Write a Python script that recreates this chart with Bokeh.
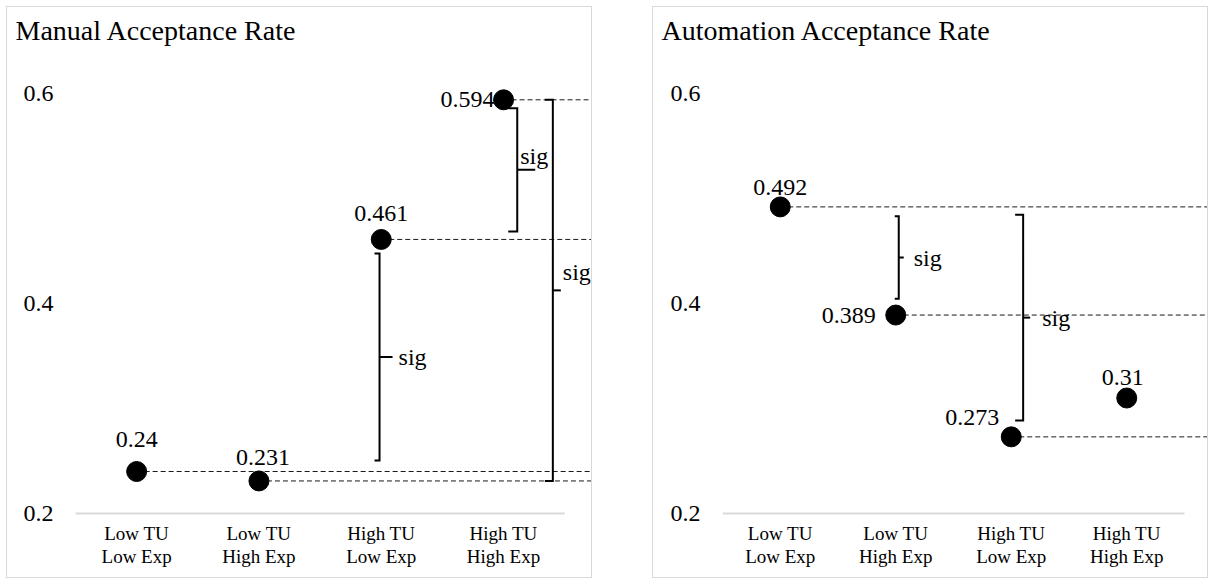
from bokeh.plotting import figure
from bokeh.models import Range1d, FixedTicker, Spacer
from bokeh.layouts import row, column
from bokeh.embed import file_html
from bokeh.resources import INLINE
from bokeh.core.properties import value

# ---------------- data ----------------
categories = ["Low TU\nLow Exp", "Low TU\nHigh Exp", "High TU\nLow Exp", "High TU\nHigh Exp"]
y_ticks = [0.2, 0.4, 0.6]

manual_title = "Manual Acceptance Rate"
manual_rate = [0.24, 0.231, 0.461, 0.594]
manual_labels = ["0.24", "0.231", "0.461", "0.594"]
manual_dashed = [0, 1, 2, 3]          # points with a reference line to the right
# significance brackets: (x in category units, top value, bottom value)
manual_sig = [(2.486, 0.4476, 0.2505), (3.612, 0.586, 0.4686), (3.903, 0.594, 0.231)]

auto_title = "Automation Acceptance Rate"
auto_rate = [0.492, 0.389, 0.273, 0.31]
auto_labels = ["0.492", "0.389", "0.273", "0.31"]
auto_dashed = [0, 1, 2]
auto_sig = [(1.526, 0.4831, 0.4045), (2.603, 0.4845, 0.2886)]

# ---------------- styling / layout ----------------
FONT = "Liberation Serif"
PX_PER_UNIT_Y = 1050.0

# value-label placement: (dx px, dy px (down +), align)
manual_label_pos = [(0, -32, "center"), (4, -23, "center"), (0, -26, "center"), (-9, 0, "right")]
auto_label_pos = [(0, -19, "center"), (-20, 0, "right"), (-12, -19, "right"), (-4, -21, "center")]
# bracket styling: (hook px, tick px, label dx px, label dy px)
manual_sig_style = [(5, 13, 19, 0), (9, 18, 3, -14), (8, 8, 10, -18)]
auto_sig_style = [(4, 5, 15, 0), (8, 7, 19, 0)]


def make_panel(title, rates, labels, dashed, sig, label_pos, sig_style,
               width, min_left, min_right, cat_px):
    height = 572
    min_top, min_bottom = 43, 63
    frame_w = width - min_left - min_right
    frame_h = height - min_top - min_bottom
    x_end = frame_w / cat_px
    y_start = 0.2 - 3.0 / PX_PER_UNIT_Y
    y_end = y_start + frame_h / PX_PER_UNIT_Y
    dx = x_end / frame_w          # data units per px (x)
    dy = 1.0 / PX_PER_UNIT_Y      # data units per px (y)

    p = figure(width=width, height=height, output_backend="svg", toolbar_location=None,
               x_range=Range1d(0, x_end), y_range=Range1d(y_start, y_end),
               min_border_left=min_left, min_border_right=min_right,
               min_border_top=min_top, min_border_bottom=min_bottom,
               title=title)
    p.styles = {"border": "1px solid #d9d9d9"}
    p.outline_line_color = None
    p.background_fill_color = "white"
    p.border_fill_color = "white"
    p.grid.visible = False

    p.title.text_font = FONT
    p.title.text_font_size = "28px"
    p.title.text_font_style = "normal"
    p.title.text_color = "black"
    p.title.align = "left"
    p.title.offset = -(min_left - 8)
    p.title.standoff = 10

    # axes
    xs = [i + 0.5 for i in range(len(categories))]
    p.xaxis.ticker = FixedTicker(ticks=xs)
    p.xaxis.major_label_overrides = {x: c for x, c in zip(xs, categories)}
    p.yaxis.ticker = FixedTicker(ticks=y_ticks)
    for ax in (p.xaxis, p.yaxis):
        ax.axis_line_color = None
        ax.major_tick_line_color = None
        ax.minor_tick_line_color = None
        ax.major_label_text_font = FONT
        ax.major_label_text_color = "black"
    p.xaxis.major_label_text_font_size = "19px"
    p.xaxis.major_label_text_line_height = 1.1
    p.xaxis.major_label_standoff = 0
    p.yaxis.major_label_text_font_size = "24px"
    p.yaxis.major_label_standoff = 16

    # baseline (category axis line)
    p.segment(x0=[0], y0=[0.2], x1=[len(categories)], y1=[0.2],
              line_color="#d9d9d9", line_width=2)

    # dashed reference lines
    p.segment(x0=[xs[i] for i in dashed], y0=[rates[i] for i in dashed],
              x1=[x_end + 1] * len(dashed), y1=[rates[i] for i in dashed],
              line_color="#1a1a1a", line_width=1, line_dash="5 3")

    # significance brackets
    for (bx, top, bot), (hook, tick, ldx, ldy) in zip(sig, sig_style):
        mid = (top + bot) / 2
        p.line(x=[bx - hook * dx, bx, bx, bx - hook * dx], y=[top, top, bot, bot],
               line_color="black", line_width=2, line_join="miter")
        p.line(x=[bx, bx + tick * dx], y=[mid, mid], line_color="black", line_width=2)
        p.text(x=[bx + ldx * dx], y=[mid - ldy * dy], text=["sig"],
               text_font=value(FONT), text_font_size="24px", text_color="black",
               text_align="left", text_baseline="middle")

    # points
    p.scatter(x=xs, y=rates, size=20, marker="circle", fill_color="black", line_color="black")

    # value labels
    for x, r, lab, (ox, oy, al) in zip(xs, rates, labels, label_pos):
        p.text(x=[x + ox * dx], y=[r - oy * dy], text=[lab],
               text_font=value(FONT), text_font_size="24px", text_color="black",
               text_align=al, text_baseline="middle")
    return p


left = make_panel(manual_title, manual_rate, manual_labels, manual_dashed, manual_sig,
                  manual_label_pos, manual_sig_style,
                  width=586, min_left=68, min_right=0, cat_px=122.3)
right = make_panel(auto_title, auto_rate, auto_labels, auto_dashed, auto_sig,
                   auto_label_pos, auto_sig_style,
                   width=556, min_left=69, min_right=0, cat_px=115.5)

layout = column(Spacer(width=10, height=6),
                row(Spacer(width=6, height=10), left, Spacer(width=60, height=10), right))
open("out.html", "w").write(file_html(layout, INLINE))
